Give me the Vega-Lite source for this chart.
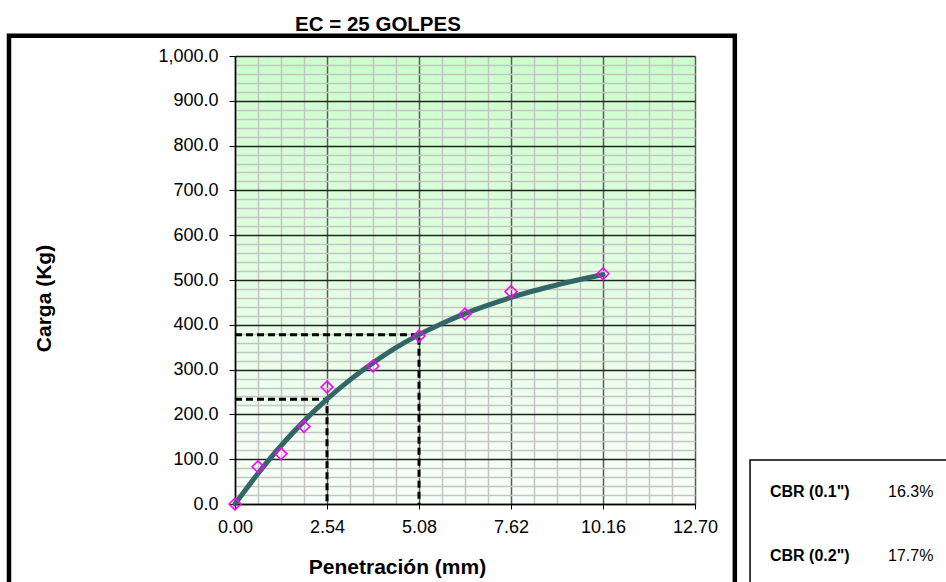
{
  "$schema": "https://vega.github.io/schema/vega-lite/v6.json",
  "autosize": "none",
  "width": 460,
  "height": 448,
  "padding": {"left": 235, "top": 56, "right": 251, "bottom": 78},
  "background": "white",
  "view": {
    "stroke": null,
    "fill": {"gradient": "linear", "x1": 0, "y1": 0, "x2": 0, "y2": 1,
      "stops": [{"offset": 0, "color": "#ccffcc"}, {"offset": 1, "color": "#f9fff9"}]}
  },
  "title": {
    "text": "EC = 25 GOLPES",
    "font": "Liberation Sans",
    "fontSize": 20.5,
    "fontWeight": "bold",
    "color": "black",
    "baseline": "alphabetic",
    "offset": 4,
    "dx": -87,
    "dy": 22
  },
  "config": {
    "font": "Liberation Sans",
    "axis": {"labelFont": "Liberation Sans", "titleFont": "Liberation Sans", "labelColor": "black", "titleColor": "black"}
  },
  "datasets": {
    "ensayo": [
      {"pen": 0, "carga": 0},
      {"pen": 0.635, "carga": 83},
      {"pen": 1.27, "carga": 112},
      {"pen": 1.905, "carga": 173},
      {"pen": 2.54, "carga": 261},
      {"pen": 3.81, "carga": 308},
      {"pen": 5.08, "carga": 375},
      {"pen": 6.35, "carga": 424},
      {"pen": 7.62, "carga": 474},
      {"pen": 10.16, "carga": 514}
    ],
    "curva": [
      {"pen": 0, "carga": 0},
      {"pen": 0.635, "carga": 68},
      {"pen": 1.27, "carga": 130},
      {"pen": 1.905, "carga": 185},
      {"pen": 2.54, "carga": 234},
      {"pen": 3.175, "carga": 277},
      {"pen": 3.81, "carga": 315},
      {"pen": 4.445, "carga": 349},
      {"pen": 5.08, "carga": 378},
      {"pen": 5.715, "carga": 403},
      {"pen": 6.35, "carga": 425},
      {"pen": 6.985, "carga": 444},
      {"pen": 7.62, "carga": 461},
      {"pen": 8.255, "carga": 476},
      {"pen": 8.89, "carga": 489},
      {"pen": 9.525, "carga": 501},
      {"pen": 10.16, "carga": 512}
    ],
    "lecturas": [
      {"lectura": "0.1", "orden": 1, "pen": 0, "carga": 234},
      {"lectura": "0.1", "orden": 2, "pen": 2.54, "carga": 234},
      {"lectura": "0.1", "orden": 3, "pen": 2.54, "carga": 0},
      {"lectura": "0.2", "orden": 1, "pen": 0, "carga": 378},
      {"lectura": "0.2", "orden": 2, "pen": 5.08, "carga": 378},
      {"lectura": "0.2", "orden": 3, "pen": 5.08, "carga": 0}
    ]
  },
  "layer": [
    {
      "data": {"name": "curva"},
      "mark": {"type": "line", "color": "#336666", "strokeWidth": 5, "interpolate": "monotone", "opacity": 0},
      "encoding": {
        "x": {
          "field": "pen", "type": "quantitative",
          "scale": {"domain": [0, 12.7], "nice": false, "zero": false},
          "axis": {
            "values": [0, 0.635, 1.27, 1.905, 2.54, 3.175, 3.81, 4.445, 5.08, 5.715, 6.35, 6.985, 7.62, 8.255, 8.89, 9.525, 10.16, 10.795, 11.43, 12.065, 12.7],
            "tickCount": 200,
            "title": "Penetración (mm)",
            "titleFontSize": 21,
            "titleFontWeight": "bold",
            "titleX": 162,
            "titleY": 69,
            "titleBaseline": "alphabetic",
            "titleAnchor": "middle",
            "labelFontSize": 18,
            "labelPadding": 9,
            "labelExpr": "indexof([0,2.54,5.08,7.62,10.16,12.7], datum.value) >= 0 ? format(datum.value, '.2f') : ''",
            "labelOverlap": false,
            "labelFlush": false,
            "domainColor": "black",
            "domainWidth": 1.5,
            "tickSize": 5,
            "tickColor": "black",
            "tickOpacity": {"condition": {"test": "indexof([0,2.54,5.08,7.62,10.16,12.7], datum.value) >= 0", "value": 1}, "value": 0},
            "grid": true,
            "gridColor": {"condition": {"test": "indexof([0,2.54,5.08,7.62,10.16,12.7], datum.value) >= 0", "value": "#5a5a5a"}, "value": "#c4c4c4"},
            "gridWidth": 1.5,
            "gridOpacity": 1
          }
        },
        "y": {
          "field": "carga", "type": "quantitative",
          "scale": {"domain": [0, 1000], "nice": false},
          "axis": {
            "values": [0,20,40,60,80,100,120,140,160,180,200,220,240,260,280,300,320,340,360,380,400,420,440,460,480,500,520,540,560,580,600,620,640,660,680,700,720,740,760,780,800,820,840,860,880,900,920,940,960,980,1000],
            "tickCount": 200,
            "title": "Carga (Kg)",
            "titleFontSize": 21,
            "titleFontWeight": "bold",
            "titleX": -185,
            "titleY": 242,
            "titleAngle": -90,
            "titleBaseline": "alphabetic",
            "titleAnchor": "middle",
            "labelFontSize": 18,
            "labelPadding": 11,
            "labelExpr": "datum.value % 100 === 0 ? format(datum.value, ',.1f') : ''",
            "labelOverlap": false,
            "labelFlush": false,
            "domainColor": "black",
            "domainWidth": 1.5,
            "tickSize": 6,
            "tickColor": "black",
            "tickOpacity": {"condition": {"test": "datum.value % 100 === 0", "value": 1}, "value": 0},
            "grid": true,
            "gridColor": {"condition": {"test": "datum.value % 100 === 0", "value": "#222222"}, "value": "#c4c4c4"},
            "gridWidth": 1.4,
            "gridOpacity": 1
          }
        }
      }
    },
    {
      "data": {"name": "lecturas"},
      "mark": {"type": "line", "color": "black", "strokeWidth": 3, "strokeDash": [7, 4]},
      "encoding": {
        "x": {"field": "pen", "type": "quantitative"},
        "y": {"field": "carga", "type": "quantitative"},
        "detail": {"field": "lectura", "type": "nominal"},
        "order": {"field": "orden", "type": "quantitative"}
      }
    },
    {
      "data": {"name": "curva"},
      "mark": {"type": "line", "color": "#336666", "strokeWidth": 5, "interpolate": "monotone", "strokeCap": "round"},
      "encoding": {
        "x": {"field": "pen", "type": "quantitative"},
        "y": {"field": "carga", "type": "quantitative"}
      }
    },
    {
      "data": {"name": "ensayo"},
      "mark": {"type": "point", "shape": "diamond", "filled": false, "color": "#ff00ff", "strokeWidth": 1.6, "size": 140, "opacity": 1},
      "encoding": {
        "x": {"field": "pen", "type": "quantitative"},
        "y": {"field": "carga", "type": "quantitative"}
      }
    },
    {
      "data": {"values": [{"marco": "grafico"}]},
      "mark": {"type": "rect", "fill": "transparent", "stroke": "black", "strokeWidth": 4.5},
      "encoding": {
        "x": {"datum": -6.24, "type": "quantitative"},
        "x2": {"datum": 13.8, "type": "quantitative"},
        "y": {"datum": 1045, "type": "quantitative"},
        "y2": {"datum": -260, "type": "quantitative"}
      }
    },
    {
      "data": {"values": [{"marco": "cbr"}]},
      "mark": {"type": "rect", "fill": "white", "stroke": "black", "strokeWidth": 1.5},
      "encoding": {
        "x": {"datum": 14.22, "type": "quantitative"},
        "x2": {"datum": 20, "type": "quantitative"},
        "y": {"datum": 98.2, "type": "quantitative"},
        "y2": {"datum": -260, "type": "quantitative"}
      }
    },
    {
      "data": {"values": [{"etiqueta": "CBR (0.1\")"}]},
      "mark": {"type": "text", "align": "left", "baseline": "alphabetic", "font": "Liberation Sans", "fontSize": 16, "fontWeight": "bold", "color": "black"},
      "encoding": {"x": {"datum": 14.77, "type": "quantitative"}, "y": {"datum": 16.3, "type": "quantitative"}, "text": {"field": "etiqueta", "type": "nominal"}}
    },
    {
      "data": {"values": [{"valor": "16.3%"}]},
      "mark": {"type": "text", "align": "left", "baseline": "alphabetic", "font": "Liberation Sans", "fontSize": 16, "color": "black"},
      "encoding": {"x": {"datum": 18.03, "type": "quantitative"}, "y": {"datum": 16.3, "type": "quantitative"}, "text": {"field": "valor", "type": "nominal"}}
    },
    {
      "data": {"values": [{"etiqueta": "CBR (0.2\")"}]},
      "mark": {"type": "text", "align": "left", "baseline": "alphabetic", "font": "Liberation Sans", "fontSize": 16, "fontWeight": "bold", "color": "black"},
      "encoding": {"x": {"datum": 14.77, "type": "quantitative"}, "y": {"datum": -126.6, "type": "quantitative"}, "text": {"field": "etiqueta", "type": "nominal"}}
    },
    {
      "data": {"values": [{"valor": "17.7%"}]},
      "mark": {"type": "text", "align": "left", "baseline": "alphabetic", "font": "Liberation Sans", "fontSize": 16, "color": "black"},
      "encoding": {"x": {"datum": 18.03, "type": "quantitative"}, "y": {"datum": -126.6, "type": "quantitative"}, "text": {"field": "valor", "type": "nominal"}}
    }
  ]
}
